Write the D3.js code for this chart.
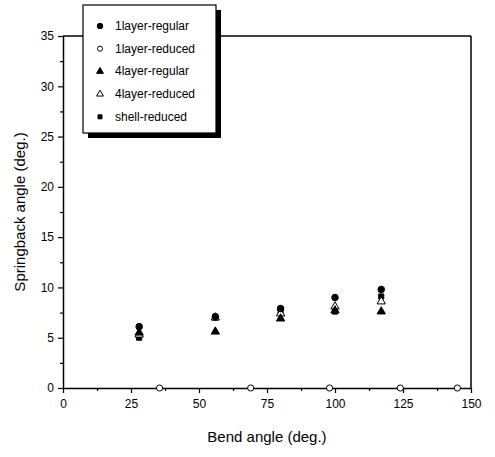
<!DOCTYPE html>
<html>
<head>
<meta charset="utf-8">
<script src="https://cdn.jsdelivr.net/npm/d3@7"></script>
<style>
  body { margin: 0; background: #fff; }
  text { font-family: "Liberation Sans", Arial, sans-serif; fill: #000; }
</style>
</head>
<body>
<div id="chart"></div>
<script>
// springback vs bend angle
const seriesNames = ["1layer-regular", "1layer-reduced", "4layer-regular", "4layer-reduced", "shell-reduced"];
const oneLayerRegular = [[28, 6.1], [56, 7.1], [80, 7.9], [100, 9.0], [117, 9.8]];
const oneLayerReduced = [[35.5, 0], [69, 0], [98, 0], [124, 0], [145, 0]];
const fourLayerRegular = [[28, 5.5], [56, 5.6], [80, 6.9], [100, 7.7], [117, 7.6]];
const fourLayerReduced = [[28, 5.3], [56, 7.0], [80, 7.4], [100, 8.1], [117, 8.6]];
const shellReduced = [[28, 5.0], [56, 7.0], [80, 7.6], [100, 7.6], [117, 9.1]];
const xTicks = [0, 25, 50, 75, 100, 125, 150];
const yTicks = [0, 5, 10, 15, 20, 25, 30, 35];

const width = 495, height = 457;
var margin = { top: 36, right: 24, bottom: 69, left: 63 };
var w = width - margin.left - margin.right,
  h = height - margin.top - margin.bottom;

var svg = d3
  .select("#chart")
  .append("svg")
  .attr("width", width)
  .attr("height", height);

var g = svg.append("g")
  .attr("transform", "translate(" + margin.left + "," + margin.top + ")");

var x = d3.scaleLinear().domain([0, 150]).range([0, w]);
var y = d3.scaleLinear().domain([0, 35]).range([h, 0]);

// minor ticks first
g.append("g")
  .attr("transform", "translate(0," + h + ")")
  .call(d3.axisBottom(x).tickValues(d3.range(12.5, 150, 25)).tickSize(3).tickFormat(""))
  .call(a => a.select(".domain").remove());
g.append("g")
  .call(d3.axisLeft(y).tickValues(d3.range(2.5, 35, 5)).tickSize(3).tickFormat(""))
  .call(a => a.select(".domain").remove());

var xAxis = g.append("g")
  .attr("transform", "translate(0," + h + ")")
  .call(d3.axisBottom(x).tickValues(xTicks).tickSize(5).tickSizeOuter(0).tickPadding(6));
xAxis.selectAll("text").style("font-size", "12px");

var yAxis = g.append("g")
  .call(d3.axisLeft(y).tickValues(yTicks).tickSize(5).tickSizeOuter(0).tickPadding(4));
yAxis.selectAll("text").style("font-size", "12px");

g.selectAll(".domain").attr("stroke-width", 1.5);
g.selectAll(".tick line").attr("stroke-width", 1.2);

// frame top/right
g.append("line").attr("x1", 0).attr("x2", w).attr("y1", 0).attr("y2", 0)
  .attr("stroke", "#000").attr("stroke-width", 1.5);
g.append("line").attr("x1", w).attr("x2", w).attr("y1", 0).attr("y2", h)
  .attr("stroke", "#000").attr("stroke-width", 1.5);

// axis titles
svg.append("text")
  .attr("x", margin.left + w / 2)
  .attr("y", 442)
  .attr("text-anchor", "middle")
  .style("font-size", "15px")
  .text("Bend angle (deg.)");
svg.append("text")
  .attr("transform", "translate(25," + (margin.top + h / 2) + ") rotate(-90)")
  .attr("text-anchor", "middle")
  .style("font-size", "15px")
  .text("Springback angle (deg.)");

// marker styles per series
const sym = [
  { type: d3.symbolCircle, size: 34, fill: "#000" },
  { type: d3.symbolCircle, size: 30, fill: "#fff" },
  { type: d3.symbolTriangle, size: 30, fill: "#000" },
  { type: d3.symbolTriangle, size: 30, fill: "#fff" },
  { type: d3.symbolSquare, size: 26, fill: "#000" }
];
const allData = [oneLayerRegular, oneLayerReduced, fourLayerRegular, fourLayerReduced, shellReduced];

// draw in reverse so filled circles sit on top like the original
[4, 3, 2, 1, 0].forEach(function(i) {
  g.selectAll(".pt" + i)
    .data(allData[i])
    .enter()
    .append("path")
    .attr("d", d3.symbol().type(sym[i].type).size(sym[i].size))
    .attr("transform", d => "translate(" + x(d[0]) + "," + y(d[1]) + ")")
    .attr("fill", sym[i].fill)
    .attr("stroke", "#000")
    .attr("stroke-width", 1);
});

// legend with drop shadow
var lg = svg.append("g").attr("transform", "translate(83,5)");
lg.append("rect").attr("x", 5).attr("y", 5).attr("width", 133).attr("height", 128).attr("fill", "#000");
lg.append("rect").attr("x", 0).attr("y", 0).attr("width", 133).attr("height", 128)
  .attr("fill", "#fff").attr("stroke", "#000").attr("stroke-width", 1.2);

seriesNames.forEach(function(name, i) {
  var yy = 21 + i * 22.7;
  lg.append("path")
    .attr("d", d3.symbol().type(sym[i].type).size(sym[i].size - 10))
    .attr("transform", "translate(17," + yy + ")")
    .attr("fill", sym[i].fill)
    .attr("stroke", "#000");
  lg.append("text")
    .attr("x", 32)
    .attr("y", yy + 4)
    .style("font-size", "12px")
    .text(name);
});
</script>
</body>
</html>
